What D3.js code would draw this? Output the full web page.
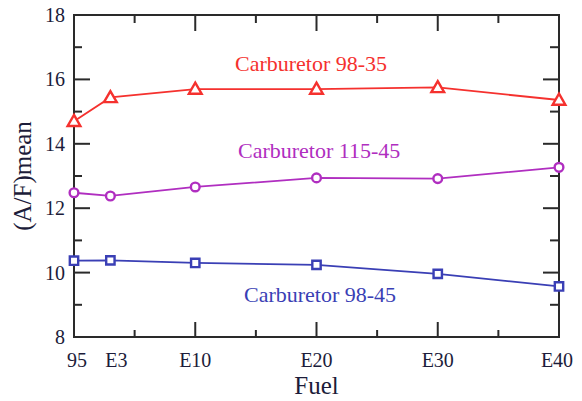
<!DOCTYPE html>
<html>
<head>
<meta charset="utf-8">
<script src="https://cdn.jsdelivr.net/npm/d3@7"></script>
<style>
  body { margin: 0; background: #fff; }
</style>
</head>
<body>
<div id="chart"></div>
<script>
// fuel blend (ethanol %), 0 = gasoline "95"
const fuelX = [0, 3, 10, 20, 30, 40];
const fuelLabels = ["95", "E3", "E10", "E20", "E30", "E40"];

const carb9835 = [14.7, 15.44, 15.7, 15.7, 15.75, 15.36];
const carb11545 = [12.48, 12.38, 12.66, 12.94, 12.92, 13.27];
const carb9845 = [10.37, 10.38, 10.3, 10.24, 9.96, 9.57];

const yTicks = [8, 10, 12, 14, 16, 18];

const series = [
  { name: "Carburetor 98-35", values: carb9835, color: "#f5312e", symbol: d3.symbolTriangle, lx: 235, ly: 71 },
  { name: "Carburetor 115-45", values: carb11545, color: "#b02ec0", symbol: d3.symbolCircle, lx: 238, ly: 158 },
  { name: "Carburetor 98-45", values: carb9845, color: "#3a3fb5", symbol: d3.symbolSquare, lx: 244, ly: 302 }
];

const W = 582, H = 401;
const m = { left: 74, right: 23, top: 15, bottom: 64 };
const x = d3.scaleLinear().domain([0, 40]).range([m.left, W - m.right]);
const y = d3.scaleLinear().domain([8, 18]).range([H - m.bottom, m.top]);

const FONT = "Liberation Serif";

const svg = d3.select("#chart").append("svg")
  .attr("width", W).attr("height", H)
  .style("display", "block");

const axisColor = "#2a2a2a";
const labelColor = "#1c1c3a";

// ticks (inward on all four sides)
const xMajor = [10, 20, 30], xMinor = [5, 15, 25, 35];
const yMinor = [9, 11, 13, 15, 17];
const g = svg.append("g").attr("stroke", axisColor).attr("stroke-width", 2);
const x0 = x.range()[0], x1 = x.range()[1], yb = y.range()[0], yt = y.range()[1];
xMajor.forEach(v => {
  g.append("line").attr("x1", x(v)).attr("x2", x(v)).attr("y1", yb).attr("y2", yb - 15);
  g.append("line").attr("x1", x(v)).attr("x2", x(v)).attr("y1", yt).attr("y2", yt + 16);
});
xMinor.forEach(v => {
  g.append("line").attr("x1", x(v)).attr("x2", x(v)).attr("y1", yb).attr("y2", yb - 7);
  g.append("line").attr("x1", x(v)).attr("x2", x(v)).attr("y1", yt).attr("y2", yt + 8);
});
yTicks.slice(1, -1).forEach(v => {
  g.append("line").attr("x1", x0).attr("x2", x0 + 16).attr("y1", y(v)).attr("y2", y(v));
  g.append("line").attr("x1", x1).attr("x2", x1 - 16).attr("y1", y(v)).attr("y2", y(v));
});
yMinor.forEach(v => {
  g.append("line").attr("x1", x0).attr("x2", x0 + 8).attr("y1", y(v)).attr("y2", y(v));
  g.append("line").attr("x1", x1).attr("x2", x1 - 9).attr("y1", y(v)).attr("y2", y(v));
});

// frame
svg.append("rect")
  .attr("x", x0).attr("y", yt).attr("width", x1 - x0).attr("height", yb - yt)
  .attr("fill", "none").attr("stroke", axisColor).attr("stroke-width", 2);

// tick labels
svg.append("g").selectAll("text").data(yTicks).join("text")
  .attr("x", x0 - 9).attr("y", d => y(d) + 7)
  .attr("text-anchor", "end").attr("font-size", 20).attr("fill", labelColor)
  .attr("font-family", FONT)
  .text(d => d);

svg.append("g").selectAll("text").data(fuelX).join("text")
  .attr("x", (d, i) => x(d) + (i === 0 ? 3 : i === 1 ? 6 : i === 5 ? -2 : 0))
  .attr("y", 367)
  .attr("text-anchor", "middle").attr("font-size", 20).attr("fill", labelColor)
  .attr("font-family", FONT)
  .text((d, i) => fuelLabels[i]);

// axis titles
svg.append("text").attr("x", (x0 + x1) / 2).attr("y", 394)
  .attr("text-anchor", "middle").attr("font-size", 25).attr("fill", labelColor)
  .attr("font-family", FONT)
  .text("Fuel");
svg.append("text").attr("transform", "translate(31,176) rotate(-90)")
  .attr("text-anchor", "middle").attr("font-size", 25).attr("fill", labelColor)
  .attr("font-family", FONT)
  .text("(A/F)mean");

// series
const line = d3.line().x((d, i) => x(fuelX[i])).y(d => y(d));
series.forEach(s => {
  svg.append("path").datum(s.values)
    .attr("d", line).attr("fill", "none")
    .attr("stroke", s.color).attr("stroke-width", 1.8);
  svg.append("g").selectAll("path").data(s.values).join("path")
    .attr("transform", (d, i) => `translate(${x(fuelX[i])},${y(d) + (s.symbol === d3.symbolTriangle ? 1 : 0)})`)
    .attr("d", d3.symbol().type(s.symbol).size(s.symbol === d3.symbolCircle ? 60 : 70))
    .attr("fill", "#fff").attr("stroke", s.color).attr("stroke-width", 2.4);
  svg.append("text").attr("x", s.lx).attr("y", s.ly)
    .attr("font-size", 22).attr("fill", s.color)
    .attr("font-family", FONT)
    .text(s.name);
});
</script>
</body>
</html>
